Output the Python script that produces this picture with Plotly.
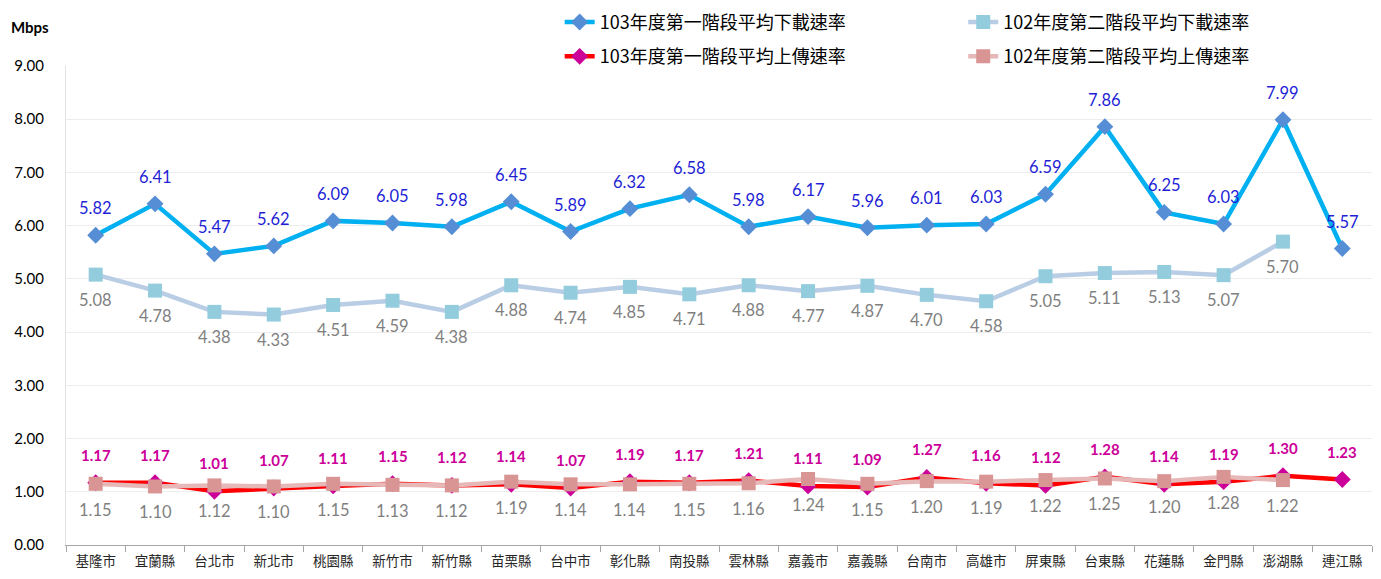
import plotly.graph_objects as go

categories = ["基隆市", "宜蘭縣", "台北市", "新北市", "桃園縣", "新竹市", "新竹縣", "苗栗縣",
              "台中市", "彰化縣", "南投縣", "雲林縣", "嘉義市", "嘉義縣", "台南市", "高雄市",
              "屏東縣", "台東縣", "花蓮縣", "金門縣", "澎湖縣", "連江縣"]

dl_103 = [5.82, 6.41, 5.47, 5.62, 6.09, 6.05, 5.98, 6.45, 5.89, 6.32, 6.58, 5.98, 6.17, 5.96,
          6.01, 6.03, 6.59, 7.86, 6.25, 6.03, 7.99, 5.57]
dl_102 = [5.08, 4.78, 4.38, 4.33, 4.51, 4.59, 4.38, 4.88, 4.74, 4.85, 4.71, 4.88, 4.77, 4.87,
          4.70, 4.58, 5.05, 5.11, 5.13, 5.07, 5.70, None]
ul_103 = [1.17, 1.17, 1.01, 1.07, 1.11, 1.15, 1.12, 1.14, 1.07, 1.19, 1.17, 1.21, 1.11, 1.09,
          1.27, 1.16, 1.12, 1.28, 1.14, 1.19, 1.30, 1.23]
ul_102 = [1.15, 1.10, 1.12, 1.10, 1.15, 1.13, 1.12, 1.19, 1.14, 1.14, 1.15, 1.16, 1.24, 1.15,
          1.20, 1.19, 1.22, 1.25, 1.20, 1.28, 1.22, None]

names = ["103年度第一階段平均下載速率", "102年度第二階段平均下載速率",
         "103年度第一階段平均上傳速率", "102年度第二階段平均上傳速率"]

FONT = "Lato, 'Noto Sans CJK TC', sans-serif"
CJK = "'Noto Sans CJK TC', sans-serif"

fig = go.Figure()

series = [
    (names[0], dl_103, "#00B0F0", "#558ED5", "diamond", 13, "legend", "g1"),
    (names[1], dl_102, "#B9CDE5", "#93CDDD", "square", 14, "legend2", "g2"),
    (names[2], ul_103, "#FF0000", "#CC0099", "diamond", 13, "legend", "g3"),
    (names[3], ul_102, "#E6B9B8", "#D99594", "square", 14, "legend2", "g4"),
]
for name, vals, lc, mc, sym, sz, lg, grp in series:
    fig.add_trace(go.Scatter(
        x=categories, y=vals, name=name, mode="lines+markers",
        line=dict(color=lc, width=4.5),
        marker=dict(symbol=sym, size=sz, color=mc, line=dict(width=0)),
        legend=lg, legendgroup=grp, hoverinfo="skip"))

# data labels
label_specs = [
    (dl_103, 27, "#1F1FD6", False, 16.5),
    (dl_102, -25, "#7F7F7F", False, 16.5),
    (ul_103, 28, "#CC0099", True, 15),
    (ul_102, -26, "#7F7F7F", False, 16.5),
]
for vals, shift, col, bold, fs in label_specs:
    for c, v in zip(categories, vals):
        if v is None:
            continue
        txt = f"{v:.2f}"
        if bold:
            txt = f"<b>{txt}</b>"
        fig.add_annotation(x=c, y=v, text=txt, showarrow=False, yshift=shift,
                           xanchor="center", yanchor="middle",
                           font=dict(family=FONT, size=fs, color=col))

fig.add_annotation(xref="paper", yref="paper", x=-0.0436, y=1.0, text="<b>Mbps</b>",
                   showarrow=False, xanchor="left", yanchor="middle", yshift=39,
                   font=dict(family=FONT, size=15, color="#000000"))

fig.update_layout(
    width=1381, height=579,
    margin=dict(l=66, r=9, t=66, b=34, autoexpand=False),
    paper_bgcolor="white", plot_bgcolor="white",
    font=dict(family=FONT, color="#000000"),
    showlegend=True,
    legend=dict(x=0.378, y=1.13, xanchor="left", yanchor="top",
                orientation="v", tracegroupgap=8,
                font=dict(family=CJK, size=18, color="#000000"),
                bgcolor="rgba(0,0,0,0)"),
    legend2=dict(x=0.687, y=1.13, xanchor="left", yanchor="top",
                 orientation="v", tracegroupgap=8,
                 font=dict(family=CJK, size=18, color="#000000"),
                 bgcolor="rgba(0,0,0,0)"),
)

fig.update_xaxes(type="category", range=[-0.5, len(categories) - 0.5], autorange=False,
                 showgrid=False, showline=True, linecolor="#A6A6A6",
                 linewidth=1, ticks="outside", tickson="boundaries", ticklen=6,
                 tickcolor="#A6A6A6", tickfont=dict(family=CJK, size=13.5, color="#262626"),
                 ticklabelstandoff=4, zeroline=False)
fig.update_yaxes(range=[0, 9], dtick=1, tickformat=".2f", showgrid=True,
                 gridcolor="#EDEDED", gridwidth=1, showline=True, linecolor="#E3E3E3",
                 zeroline=False, ticks="", ticklabelstandoff=18,
                 tickfont=dict(family=FONT, size=15, color="#000000"))

fig.write_html("out.html")
